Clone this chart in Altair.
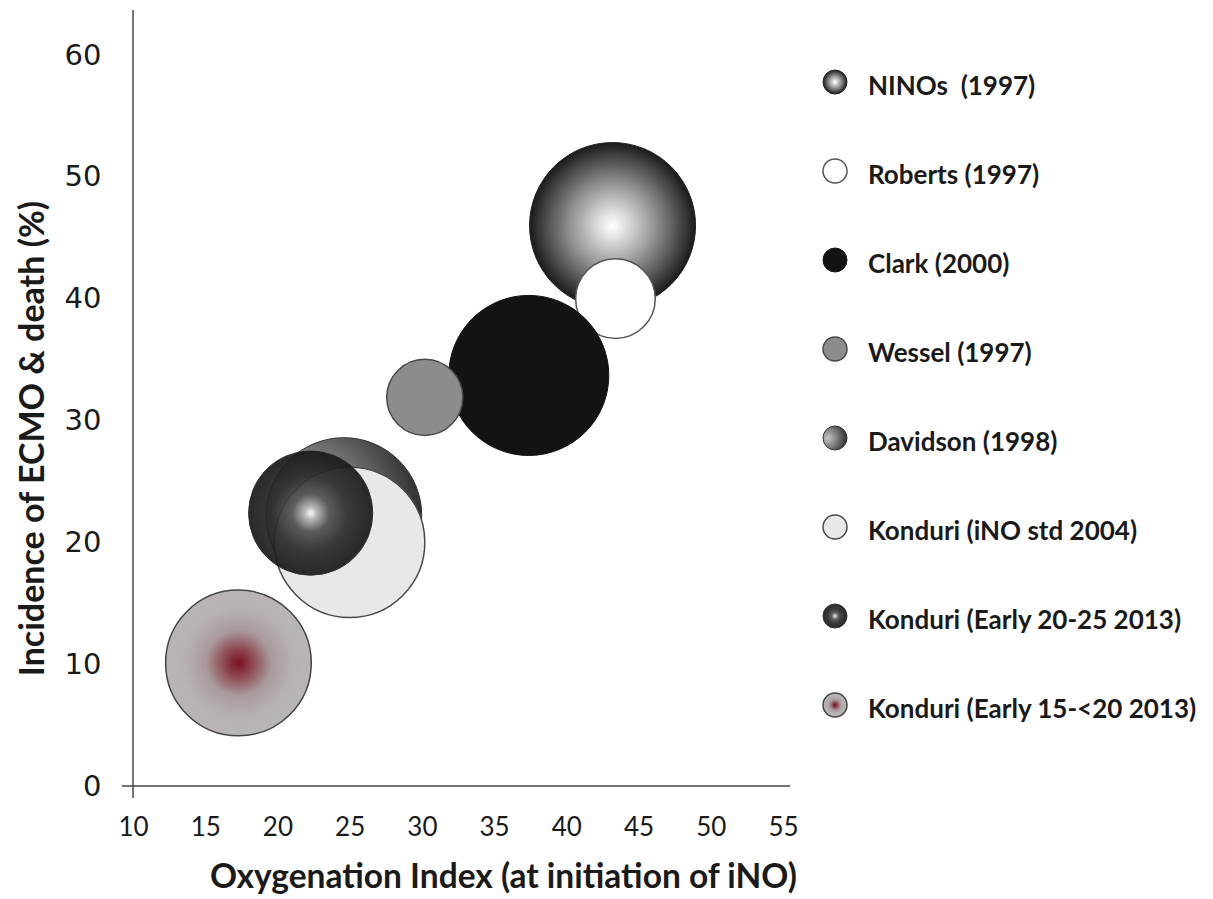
import altair as alt
import pandas as pd

# Study labels, in drawing / legend order
studies = [
    "NINOs\u00a0 (1997)",
    "Roberts (1997)",
    "Clark (2000)",
    "Wessel (1997)",
    "Davidson (1998)",
    "Konduri (iNO std 2004)",
    "Konduri (Early 20-25 2013)",
    "Konduri (Early 15-<20 2013)",
]
# Oxygenation index at initiation of iNO
oxygenation_index = [43.2, 43.4, 37.4, 30.2, 24.6, 25.0, 22.3, 17.3]
# Incidence of ECMO & death (%)
ecmo_death = [46.0, 40.0, 33.7, 31.9, 22.2, 20.0, 22.4, 10.1]
# Relative bubble area (largest study = 100)
bubble_size = [100, 23, 93, 21, 88, 82, 56, 77]

x_ticks = [10, 15, 20, 25, 30, 35, 40, 45, 50, 55]
y_ticks = [0, 10, 20, 30, 40, 50, 60]

df = pd.DataFrame({
    "study": studies,
    "oi": oxygenation_index,
    "ecmo": ecmo_death,
    "size": bubble_size,
})


def radial(stops, x1=0.5, y1=0.5, r1=0.0, x2=0.5, y2=0.5, r2=0.5):
    return alt.RadialGradient(
        gradient="radial",
        stops=[alt.GradientStop(color=c, offset=o) for o, c in stops],
        x1=x1, y1=y1, r1=r1, x2=x2, y2=y2, r2=r2,
    )


styles = {
    studies[0]: dict(fill=radial([(0, "#ffffff"), (0.15, "#e2e2e2"), (0.5, "#959595"),
                                  (0.85, "#404040"), (1, "#1a1a1a")]),
                     stroke="#222222", strokeWidth=1, opacity=1),
    studies[1]: dict(fill="#ffffff", stroke="#555555", strokeWidth=1.5, opacity=1),
    studies[2]: dict(fill="#131313", stroke="#131313", strokeWidth=1, opacity=1),
    studies[3]: dict(fill="#8c8c8c", stroke="#4a4a4a", strokeWidth=1.5, opacity=1),
    studies[4]: dict(fill=radial([(0, "#c4c4c4"), (0.4, "#838383"), (1, "#1e1e1e")],
                                 x1=0.2, y1=0.5, x2=0.2, y2=0.5, r2=0.9),
                     stroke="#333333", strokeWidth=1, opacity=1),
    studies[5]: dict(fill="#e8e8e8", stroke="#4a4a4a", strokeWidth=1.5, opacity=1),
    studies[6]: dict(fill=radial([(0, "#ffffff"), (0.1, "#b4b4b4"), (0.3, "#525252"),
                                  (0.6, "#2c2c2c"), (1, "#1a1a1a")]),
                     stroke="#222222", strokeWidth=1, opacity=0.93),
    studies[7]: dict(fill=radial([(0, "#7a1020"), (0.2, "#8e4a52"), (0.45, "#a99a9c"),
                                  (0.75, "#b7b2b2"), (1, "#b9b5b5")]),
                     stroke="#444444", strokeWidth=1.5, opacity=1),
}

text_color = "#1a1a1a"

x_enc = alt.X(
    "oi:Q",
    scale=alt.Scale(domain=[10, 55], nice=False, zero=False),
    axis=alt.Axis(
        values=x_ticks, domain=False, ticks=False, grid=False,
        labelFont="Lato", labelFontSize=26, labelColor=text_color,
        labelBaseline="middle", labelPadding=41, labelFlush=False, labelOverlap=False,
        title="Oxygenation Index (at initiation of iNO)",
        titleFont="Lato", titleFontSize=33.5, titleFontWeight="bold", titleColor=text_color,
        titleX=370, titleY=91, titleBaseline="middle", titleAlign="center",
    ),
)
y_scale = alt.Scale(domain=[0, 60], nice=False, zero=False)
y_axis = alt.Axis(
    values=y_ticks, domain=False, ticks=False, grid=False,
    labelFont="DejaVu Sans", labelFontSize=29, labelColor=text_color, labelPadding=32,
    title="Incidence of ECMO & death (%)",
    titleFont="Lato", titleFontSize=34, titleFontWeight="bold", titleColor=text_color,
    titleX=-100, titleY=383, titleAngle=-90, titleBaseline="middle", titleAlign="center",
)
size_enc = alt.Size("size:Q", scale=alt.Scale(domain=[0, 100], range=[0, 166 ** 2]), legend=None)

legend_y = alt.Y("study:N", sort=studies,
                 scale=alt.Scale(domain=studies, range=[27, 650], padding=0), axis=None)

layers = []

# axis lines
axis_src = pd.DataFrame({"k": [0]})
layers.append(alt.Chart(axis_src).mark_rule(color="#777777", strokeWidth=2).encode(
    x=alt.value(0), y=alt.value(-45), y2=alt.value(743)))
layers.append(alt.Chart(axis_src).mark_rule(color="#444444", strokeWidth=1.5).encode(
    x=alt.value(-11), x2=alt.value(657), y=alt.value(731)))

# bubbles
for i, name in enumerate(studies):
    st = styles[name]
    layers.append(
        alt.Chart(df)
        .transform_filter(alt.FieldEqualPredicate(field="study", equal=name))
        .mark_circle(**st)
        .encode(
            x=x_enc,
            y=alt.Y("ecmo:Q", scale=y_scale, axis=y_axis if i == 0 else None),
            size=size_enc,
        )
    )

# legend symbols
for name in studies:
    st = styles[name]
    layers.append(
        alt.Chart(df)
        .transform_filter(alt.FieldEqualPredicate(field="study", equal=name))
        .mark_circle(**st)
        .encode(x=alt.value(702), y=legend_y, size=alt.value(24 * 24))
    )

# legend labels
layers.append(
    alt.Chart(df)
    .mark_text(align="left", baseline="middle", font="Lato", fontSize=26,
               fontWeight="bold", color=text_color, dy=5)
    .encode(x=alt.value(735), y=legend_y, text="study:N")
)

chart = (
    alt.layer(*layers)
    .resolve_scale(y="independent")
    .properties(
        width=650, height=731,
        padding={"left": 133, "top": 55, "right": 430, "bottom": 113},
        autosize=alt.AutoSizeParams(type="none"),
        background="white",
    )
    .configure_view(stroke=None)
)

chart.save("out.html", embed_options={"renderer": "svg", "actions": False})
